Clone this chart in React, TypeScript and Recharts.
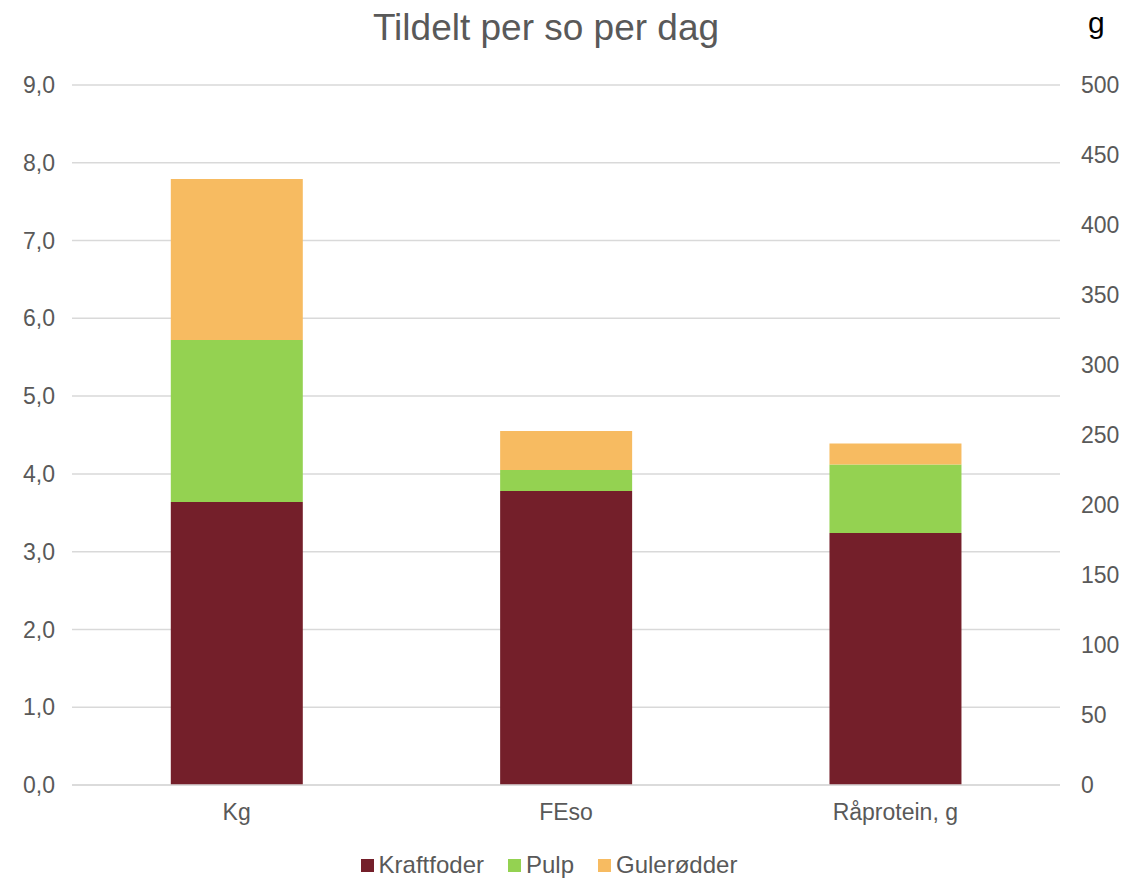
import React from 'react';
import { BarChart, Bar, XAxis, YAxis, CartesianGrid } from 'recharts';

// Fodertildeling per so per dag. Kg og FEso læses på venstre akse, råprotein (g) på højre.
const categories = ['Kg', 'FEso', 'Råprotein, g'];
const kraftfoder = [3.64, 3.78, 180];
const pulp = [2.08, 0.27, 49];
const gulerodder = [2.07, 0.5, 15];
// hvilken akse hver kategori hører til
const axisFor = ['left', 'left', 'right'];

const leftTicks = [0, 1, 2, 3, 4, 5, 6, 7, 8, 9];
const rightTicks = [0, 50, 100, 150, 200, 250, 300, 350, 400, 450, 500];

const series = [
  { key: 'kraftfoder', name: 'Kraftfoder', color: '#741f2a' },
  { key: 'pulp', name: 'Pulp', color: '#94d251' },
  { key: 'gulerodder', name: 'Gulerødder', color: '#f7bb61' },
];

const values: Record<string, number[]> = { kraftfoder, pulp, gulerodder };

const data = categories.map((name, i) => {
  const row: any = { name };
  series.forEach((s) => {
    row[`${s.key}_${axisFor[i]}`] = values[s.key][i];
  });
  return row;
});

const FONT = 'Arial, "Liberation Sans", sans-serif';
const GREY = '#595959';

const Legend = () => (
  <div
    style={{
      position: 'absolute',
      top: 851,
      left: 0,
      width: 1126,
      display: 'flex',
      justifyContent: 'center',
      fontFamily: FONT,
      fontSize: 24,
      color: GREY,
      paddingRight: 28,
      boxSizing: 'border-box',
    }}
  >
    {series.map((s, i) => (
      <div key={s.key} style={{ display: 'flex', alignItems: 'center', marginLeft: i ? 24 : 0 }}>
        <span style={{ width: 13, height: 13, background: s.color, marginRight: 5, display: 'inline-block' }} />
        <span>{s.name}</span>
      </div>
    ))}
  </div>
);

const App = () => {
  return (
    <div style={{ position: 'absolute', left: 0, top: 0, width: 1126, height: 879, background: '#fff' }}>
      <div
        style={{
          position: 'absolute',
          top: 7,
          left: 0,
          width: 1092,
          textAlign: 'center',
          fontFamily: FONT,
          fontSize: 37,
          color: GREY,
        }}
      >
        Tildelt per so per dag
      </div>
      <div style={{ position: 'absolute', top: 6, left: 1088, fontFamily: FONT, fontSize: 30, color: '#000' }}>g</div>
      <BarChart
        width={1126}
        height={879}
        data={data}
        margin={{ top: 85, right: 0, bottom: 64, left: 0 }}
        barCategoryGap="30%"
      >
        <CartesianGrid vertical={false} stroke="#d9d9d9" strokeWidth={1.5} yAxisId="left" />
        <XAxis
          dataKey="name"
          height={30}
          tickLine={false}
          axisLine={{ stroke: '#d9d9d9', strokeWidth: 1.5 }}
          tickSize={0}
          tickMargin={19}
          tick={{ fill: GREY, fontSize: 23, fontFamily: FONT }}
        />
        <YAxis
          yAxisId="left"
          width={72}
          domain={[0, 9]}
          ticks={leftTicks}
          interval={0}
          axisLine={false}
          tickLine={false}
          tickSize={0}
          tickMargin={17}
          tickFormatter={(v: number) => v.toFixed(1).replace('.', ',')}
          tick={{ fill: GREY, fontSize: 23, fontFamily: FONT }}
        />
        <YAxis
          yAxisId="right"
          orientation="right"
          width={66}
          domain={[0, 500]}
          ticks={rightTicks}
          interval={0}
          axisLine={false}
          tickLine={false}
          tickSize={0}
          tickMargin={21}
          tick={{ fill: GREY, fontSize: 23, fontFamily: FONT, textAnchor: 'start' }}
        />
        {series.map((s) => (
          <Bar
            key={`${s.key}_left`}
            dataKey={`${s.key}_left`}
            name={s.name}
            yAxisId="left"
            stackId="stack"
            fill={s.color}
            isAnimationActive={false}
          />
        ))}
        {series.map((s) => (
          <Bar
            key={`${s.key}_right`}
            dataKey={`${s.key}_right`}
            name={s.name}
            yAxisId="right"
            stackId="stack"
            fill={s.color}
            isAnimationActive={false}
          />
        ))}
      </BarChart>
      <Legend />
    </div>
  );
};

export default App;
